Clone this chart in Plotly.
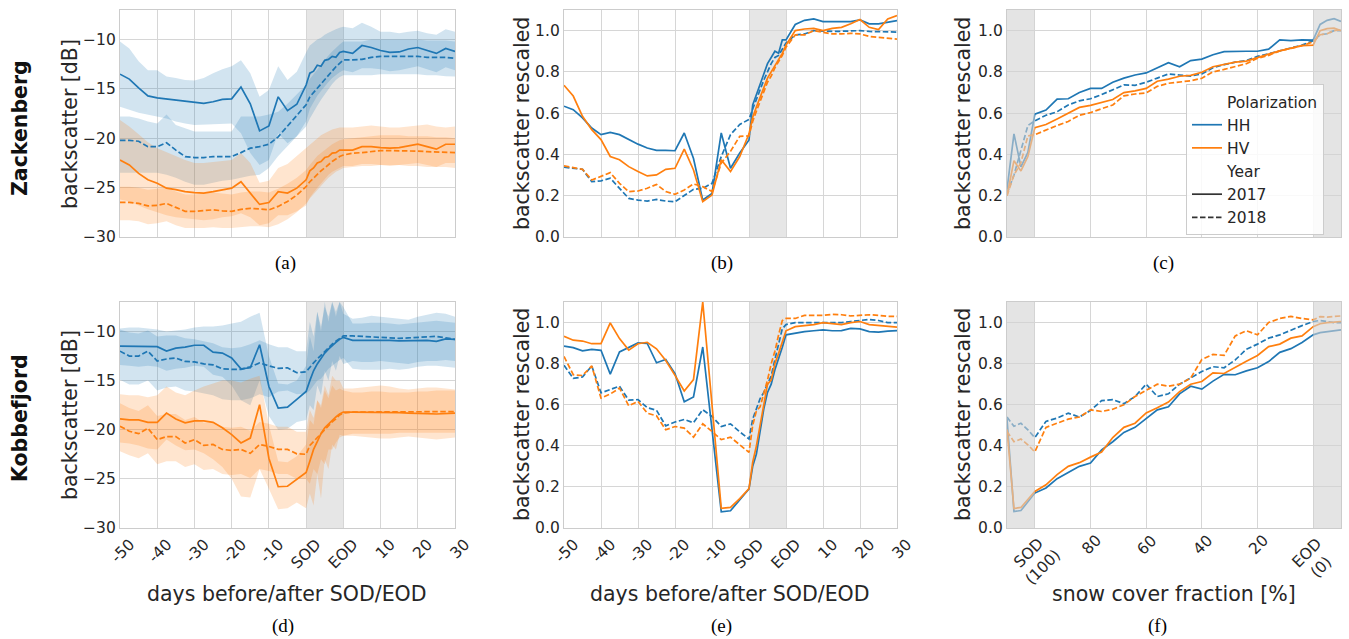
import plotly.graph_objects as go

W, H = 1349, 639

# ---------------- data ----------------
# day axis: negative = days before SOD, 0..10 = melt period SOD->EOD (rescaled), >10 = days after EOD (+10)
X_DAYS = [-50, -47.5, -45, -42.5, -40, -37.5, -35, -32.5, -30, -27.5, -25, -22.5, -20, -17.5, -15,
          -12.5, -10, -7.5, -5, -2.5, 0, 1, 2, 3, 4, 5, 6, 7, 8, 9, 10,
          12.5, 15, 17.5, 20, 22.5, 25, 27.5, 30, 32.5, 35, 37.5, 40]
X_DAY_TICKS = [-50, -40, -30, -20, -10, 0, 10, 20, 30, 40]
X_DAY_LABELS = ["-50", "-40", "-30", "-20", "-10", "SOD", "EOD", "10", "20", "30"]

# snow cover fraction axis [%]
X_SCF = [110, 107.5, 105, 102.5, 100, 96, 92, 88, 84, 80, 76, 72, 68, 64, 60, 56, 52, 48, 44, 40,
         36, 32, 28, 24, 20, 16, 12, 8, 4, 0, -2.5, -5, -7.5, -10]
X_SCF_TICKS = [100, 80, 60, 40, 20, 0]
X_SCF_LABELS = ["SOD<br>(100)", "80", "60", "40", "20", "EOD<br>(0)"]

MELT_SPAN = [0, 10]
SCF_SPANS = [[100, 110], [-10, 0]]

# (a) Zackenberg backscatter [dB]
ZAC_HH17 = [-13.5, -14.0, -14.9, -15.7, -15.9, -16.0, -16.1, -16.2, -16.3, -16.45, -16.3, -16.05, -16.0, -14.8, -16.5,
            -19.25, -18.75, -15.8, -17.2, -16.55, -14.6, -13.4, -13.2, -12.6, -12.7, -12.1, -12.0, -11.7, -11.8, -11.3, -11.2,
            -11.4, -10.6, -10.8, -11.1, -11.3, -11.25, -10.95, -10.8, -11.1, -11.4, -10.9, -11.2]
ZAC_HH18 = [-20.2, -20.2, -20.3, -20.85, -20.85, -20.45, -21.2, -21.85, -21.95, -21.95, -21.85, -21.85, -21.85, -21.45, -21.0,
            -20.85, -20.6, -19.85, -18.8, -17.75, -16.6, -15.8, -15.35, -14.95, -14.5, -14.05, -13.6, -13.15, -12.75, -12.4, -12.05,
            -12.05, -12.0, -11.8, -11.7, -11.7, -11.7, -11.7, -11.7, -11.8, -11.8, -11.8, -11.9]
ZAC_HV17 = [-22.2, -22.7, -23.55, -24.2, -24.55, -25.05, -25.2, -25.4, -25.5, -25.55, -25.4, -25.2, -25.05, -24.4, -25.55,
            -26.7, -26.5, -25.4, -25.55, -25.05, -24.2, -23.3, -23.0, -22.5, -22.35, -21.95, -21.85, -21.5, -21.45, -21.2, -21.2,
            -21.2, -20.85, -20.85, -20.95, -21.0, -20.95, -20.75, -20.6, -20.85, -21.1, -20.6, -20.6]
ZAC_HV18 = [-26.5, -26.5, -26.6, -26.85, -26.8, -26.6, -27.0, -27.4, -27.4, -27.35, -27.25, -27.35, -27.4, -27.2, -27.1,
            -27.15, -27.25, -26.9, -26.4, -25.75, -24.9, -24.4, -24.0, -23.6, -23.3, -23.0, -22.65, -22.35, -22.1, -21.85, -21.7,
            -21.5, -21.45, -21.35, -21.25, -21.25, -21.25, -21.3, -21.3, -21.35, -21.4, -21.4, -21.45]
ZAC_HH17_HI = [-10.2, -10.9, -12.2, -13.1, -13.1, -13.75, -13.9, -14.1, -14.15, -13.9, -13.4, -13.0, -12.7, -12.1, -13.4,
               -15.8, -15.1, -12.7, -14.1, -13.25, -11.3, -10.6, -10.3, -10.0, -9.8, -9.5, -9.3, -9.1, -8.95, -8.8, -8.7,
               -8.85, -8.3, -8.7, -9.2, -9.2, -9.35, -9.2, -9.1, -9.35, -9.5, -8.95, -9.2]
ZAC_HH17_LO = [-16.8, -17.1, -17.4, -17.6, -17.8, -18.0, -18.3, -18.5, -18.65, -18.65, -18.6, -18.55, -18.5, -19.5, -21.5,
               -22.7, -22.2, -19.5, -20.5, -19.8, -18.3, -17.0, -16.3, -15.7, -15.2, -14.7, -14.3, -13.9, -13.6, -13.3, -13.1,
               -13.3, -12.9, -12.9, -13.0, -13.2, -13.1, -12.9, -12.7, -13.0, -13.3, -12.8, -13.1]
ZAC_HH18_HI = [-17.8, -17.8, -18.0, -18.3, -18.5, -17.6, -18.65, -19.0, -19.3, -19.3, -19.3, -19.3, -19.3, -17.8, -17.8,
               -17.8, -17.6, -17.3, -16.5, -15.5, -14.6, -14.0, -13.5, -13.0, -12.5, -12.0, -11.6, -11.2, -10.8, -10.5, -10.2,
               -10.2, -10.2, -10.0, -10.0, -10.0, -10.0, -10.0, -10.0, -10.1, -10.1, -10.1, -10.2]
ZAC_HH18_LO = [-23.5, -23.5, -23.5, -23.5, -23.5, -23.7, -24.0, -24.4, -24.7, -24.7, -24.5, -24.3, -24.2, -24.0, -23.8,
               -23.7, -23.0, -21.8, -20.8, -19.8, -18.8, -18.0, -17.3, -16.7, -16.1, -15.5, -15.0, -14.5, -14.1, -13.8, -13.6,
               -13.6, -13.6, -13.6, -13.5, -13.5, -13.5, -13.5, -13.5, -13.6, -13.6, -13.7, -13.75]
ZAC_HV17_HI = [-18.15, -18.8, -19.6, -20.4, -21.0, -21.4, -21.8, -22.2, -22.5, -22.5, -22.4, -22.3, -22.2, -21.5, -22.5,
               -24.5, -24.3, -23.0, -22.6, -21.8, -21.0, -20.6, -20.3, -20.0, -19.7, -19.5, -19.3, -19.1, -19.0, -18.9, -18.9,
               -18.9, -18.8, -18.7, -18.8, -18.9, -18.9, -18.8, -18.7, -18.6, -18.8, -18.9, -18.8]
ZAC_HV17_LO = [-26.2, -26.4, -26.8, -27.2, -27.5, -27.8, -28.0, -28.1, -28.2, -28.3, -28.2, -28.0, -27.9, -27.6, -28.0,
               -28.8, -28.6, -27.8, -27.8, -27.4, -26.8, -26.0, -25.5, -25.0, -24.5, -24.1, -23.7, -23.4, -23.2, -23.0, -22.8,
               -22.8, -22.6, -22.6, -22.7, -22.8, -22.7, -22.6, -22.5, -22.7, -22.9, -22.5, -22.5]
ZAC_HV18_HI = [-24.9, -24.9, -25.0, -25.2, -25.1, -25.0, -25.4, -25.7, -25.7, -25.6, -25.5, -25.6, -25.7, -25.5, -25.4,
               -25.4, -25.5, -25.1, -24.6, -24.0, -23.2, -22.7, -22.2, -21.8, -21.5, -21.2, -20.9, -20.6, -20.4, -20.2, -20.1,
               -20.0, -19.9, -19.8, -19.7, -19.7, -19.7, -19.8, -19.8, -19.8, -19.9, -19.9, -20.0]
ZAC_HV18_LO = [-28.3, -28.3, -28.4, -28.7, -28.6, -28.4, -28.8, -29.1, -29.1, -29.1, -29.0, -29.1, -29.1, -29.0, -28.9,
               -28.9, -29.0, -28.7, -28.2, -27.5, -26.6, -26.1, -25.6, -25.2, -24.8, -24.4, -24.0, -23.7, -23.4, -23.2, -23.0,
               -22.9, -22.8, -22.8, -22.7, -22.7, -22.7, -22.8, -22.8, -22.9, -22.9, -22.9, -23.0]

# (b) Zackenberg rescaled, day axis
ZAC_HH17_R = [0.634, 0.617, 0.577, 0.528, 0.496, 0.507, 0.496, 0.472, 0.45, 0.431, 0.42, 0.42, 0.418, 0.504, 0.38,
              0.179, 0.211, 0.504, 0.333, 0.407, 0.47, 0.64, 0.69, 0.74, 0.79, 0.84, 0.87, 0.90, 0.89, 0.955, 0.955,
              1.03, 1.05, 1.057, 1.044, 1.044, 1.044, 1.044, 1.052, 1.033, 1.033, 1.04, 1.049]
ZAC_HH18_R = [0.338, 0.333, 0.328, 0.268, 0.272, 0.285, 0.236, 0.187, 0.179, 0.174, 0.182, 0.174, 0.171, 0.203, 0.231,
              0.236, 0.26, 0.39, 0.496, 0.545, 0.57, 0.62, 0.67, 0.71, 0.76, 0.80, 0.84, 0.87, 0.88, 0.91, 0.94,
              0.979, 0.984, 1.0, 0.997, 0.996, 0.997, 0.997, 1.0, 0.996, 0.994, 0.993, 0.993]
ZAC_HV17_R = [0.735, 0.683, 0.585, 0.52, 0.472, 0.39, 0.374, 0.341, 0.317, 0.296, 0.301, 0.328, 0.333, 0.426, 0.325,
              0.171, 0.203, 0.374, 0.317, 0.39, 0.50, 0.58, 0.63, 0.68, 0.73, 0.77, 0.80, 0.83, 0.86, 0.89, 0.93,
              1.0, 1.008, 1.011, 1.0, 1.011, 1.016, 1.033, 1.054, 1.016, 1.005, 1.057, 1.073]
ZAC_HV18_R = [0.345, 0.338, 0.328, 0.276, 0.296, 0.312, 0.26, 0.22, 0.223, 0.236, 0.255, 0.22, 0.207, 0.228, 0.257,
              0.244, 0.22, 0.358, 0.415, 0.488, 0.49, 0.56, 0.61, 0.66, 0.71, 0.75, 0.78, 0.82, 0.85, 0.88, 0.92,
              0.979, 0.979, 1.0, 0.992, 0.984, 0.984, 0.987, 0.984, 0.972, 0.967, 0.963, 0.959]

# (c) Zackenberg rescaled, snow cover fraction axis
ZAC_HH17_S = [0.23, 0.50, 0.34, 0.41, 0.595, 0.615, 0.668, 0.67, 0.70, 0.72, 0.72, 0.75, 0.77, 0.785, 0.795, 0.82, 0.845,
              0.825, 0.855, 0.862, 0.883, 0.898, 0.90, 0.90, 0.90, 0.91, 0.955, 0.952, 0.955, 0.954, 1.03, 1.05, 1.058, 1.045]
ZAC_HH18_S = [0.21, 0.30, 0.42, 0.54, 0.563, 0.59, 0.607, 0.64, 0.66, 0.67, 0.69, 0.715, 0.737, 0.735, 0.75, 0.77, 0.79,
              0.785, 0.78, 0.79, 0.82, 0.835, 0.847, 0.855, 0.875, 0.888, 0.902, 0.918, 0.93, 0.951, 0.98, 0.985, 1.0, 1.0]
ZAC_HV17_S = [0.20, 0.37, 0.32, 0.39, 0.53, 0.545, 0.572, 0.60, 0.628, 0.638, 0.652, 0.666, 0.70, 0.708, 0.72, 0.755, 0.765,
              0.779, 0.783, 0.798, 0.825, 0.835, 0.847, 0.852, 0.87, 0.886, 0.902, 0.915, 0.927, 0.93, 1.0, 1.01, 1.012, 1.0]
ZAC_HV18_S = [0.20, 0.30, 0.36, 0.49, 0.496, 0.52, 0.54, 0.56, 0.59, 0.603, 0.62, 0.64, 0.684, 0.693, 0.698, 0.73, 0.745,
              0.752, 0.757, 0.769, 0.80, 0.812, 0.825, 0.84, 0.866, 0.88, 0.902, 0.915, 0.927, 0.946, 0.98, 0.985, 1.0, 1.005]

# (d) Kobbefjord backscatter [dB]
KOB_HH17 = [-11.5, -11.5, -11.5, -11.5, -11.55, -12.0, -11.7, -11.6, -11.4, -11.4, -12.1, -12.2, -12.7, -13.8, -13.7,
            -11.35, -15.6, -17.8, -17.7, -16.9, -16.1, -15.0, -14.0, -13.3, -12.7, -12.2, -11.8, -11.4, -11.1, -10.8, -10.6,
            -10.9, -10.9, -10.9, -10.85, -10.9, -10.95, -10.95, -10.9, -10.9, -11.0, -10.75, -10.8]
KOB_HH18 = [-12.0, -12.5, -12.5, -12.0, -13.0, -12.8, -12.7, -13.05, -13.1, -13.3, -13.4, -13.8, -13.85, -13.85, -13.6,
            -13.2, -13.5, -13.75, -13.7, -14.2, -14.1, -13.6, -13.2, -12.8, -12.4, -12.0, -11.6, -11.3, -11.0, -10.7, -10.45,
            -10.45, -10.5, -10.55, -10.6, -10.65, -10.7, -10.65, -10.6, -10.55, -10.5, -10.65, -10.8]
KOB_HV17 = [-18.9, -19.0, -19.0, -19.25, -19.25, -18.3, -18.9, -19.3, -19.1, -19.1, -19.25, -19.8, -20.5, -21.35, -20.85,
            -17.45, -22.9, -25.8, -25.75, -25.05, -24.35, -23.2, -22.0, -21.2, -20.4, -19.8, -19.4, -19.0, -18.7, -18.4, -18.2,
            -18.2, -18.2, -18.2, -18.2, -18.25, -18.25, -18.3, -18.3, -18.35, -18.4, -18.35, -18.3]
KOB_HV18 = [-19.65, -20.15, -20.4, -19.85, -21.0, -20.7, -20.7, -21.35, -21.0, -21.6, -21.5, -22.0, -22.1, -22.0, -22.4,
            -21.5, -21.7, -22.0, -22.0, -22.45, -22.5, -21.6, -21.2, -20.8, -20.4, -20.0, -19.5, -19.2, -18.9, -18.5, -18.3,
            -18.2, -18.2, -18.2, -18.2, -18.2, -18.2, -18.2, -18.2, -18.2, -18.15, -18.15, -18.15]
KOB_HH17_HI = [-9.7, -9.6, -9.6, -9.7, -9.8, -10.0, -9.9, -9.8, -9.6, -9.5, -9.5, -9.4, -9.2, -9.0, -8.5,
               -8.1, -12.5, -15.3, -15.4, -15.0, -13.5, -10.5, -12.0, -8.0, -10.0, -7.0, -9.0, -7.0, -8.5, -7.0, -8.2,
               -8.7, -8.6, -8.4, -8.5, -8.6, -8.7, -8.8, -8.5, -8.3, -8.1, -8.2, -8.5]
KOB_HH17_LO = [-13.4, -13.5, -13.6, -13.5, -13.6, -14.0, -13.8, -13.7, -13.5, -13.6, -14.4, -14.6, -15.5, -17.0, -17.5,
               -15.0, -18.6, -20.0, -19.9, -19.2, -19.0, -17.5, -18.0, -15.5, -16.5, -14.0, -15.0, -13.0, -14.0, -12.5, -13.3,
               -13.0, -13.1, -13.1, -13.0, -13.1, -13.2, -13.3, -13.1, -13.0, -13.0, -12.9, -13.0]
KOB_HH18_HI = [-9.8, -10.1, -10.2, -9.9, -10.5, -10.4, -10.4, -10.7, -10.8, -11.0, -11.2, -11.6, -11.7, -11.6, -11.3,
               -10.9, -11.3, -11.6, -11.6, -12.0, -12.0, -9.0, -10.5, -8.0, -9.5, -7.5, -8.5, -7.0, -8.0, -7.0, -7.5,
               -9.2, -9.2, -9.1, -9.1, -9.2, -9.3, -9.2, -9.1, -9.0, -8.9, -9.0, -9.1]
KOB_HH18_LO = [-14.9, -15.4, -15.4, -15.0, -16.0, -15.7, -15.6, -16.0, -16.1, -16.3, -16.5, -16.9, -17.0, -17.0, -16.8,
               -16.4, -16.7, -16.1, -16.0, -16.4, -16.3, -16.0, -15.5, -15.0, -14.8, -14.3, -13.8, -13.5, -13.2, -12.9, -12.7,
               -13.8, -13.9, -13.9, -13.9, -13.8, -13.9, -13.8, -13.6, -13.5, -13.5, -13.6, -13.7]
KOB_HV17_HI = [-16.4, -16.5, -16.5, -16.7, -16.5, -15.6, -16.2, -16.5, -16.0, -15.6, -15.3, -15.0, -15.0, -15.2, -14.8,
               -14.5, -19.5, -23.2, -23.3, -22.7, -21.5, -19.0, -19.5, -17.0, -17.5, -15.5, -16.5, -14.5, -15.0, -15.0, -15.8,
               -15.8, -15.7, -15.6, -15.5, -15.6, -15.8, -15.9, -15.8, -15.7, -15.7, -15.8, -15.9]
KOB_HV17_LO = [-21.3, -21.4, -21.6, -21.9, -22.0, -21.0, -21.6, -22.1, -22.0, -22.4, -23.0, -23.8, -25.0, -26.8, -26.9,
               -24.0, -26.0, -28.1, -28.0, -27.4, -28.0, -26.5, -27.7, -24.5, -27.0, -23.0, -24.0, -21.5, -22.0, -20.5, -20.6,
               -20.6, -20.7, -20.8, -20.9, -20.9, -20.8, -20.7, -20.8, -20.9, -21.0, -20.9, -20.8]
KOB_HV18_HI = [-17.3, -17.8, -18.1, -17.5, -18.6, -18.4, -18.4, -19.0, -18.7, -19.3, -19.2, -19.7, -19.8, -19.7, -20.1,
               -19.2, -19.4, -19.7, -19.7, -20.2, -20.2, -18.0, -18.8, -17.0, -17.8, -16.0, -16.8, -15.5, -16.0, -15.8, -16.0,
               -16.2, -16.2, -16.1, -16.1, -16.2, -16.2, -16.2, -16.1, -16.1, -16.0, -16.0, -16.0]
KOB_HV18_LO = [-22.2, -22.6, -22.9, -22.4, -23.5, -23.2, -23.2, -23.8, -23.5, -24.1, -24.0, -24.5, -24.6, -24.5, -24.9,
               -24.0, -24.2, -24.5, -24.5, -25.0, -25.0, -25.5, -24.0, -24.5, -23.0, -23.5, -22.0, -22.0, -21.3, -20.8, -20.6,
               -20.4, -20.4, -20.4, -20.4, -20.4, -20.3, -20.3, -20.3, -20.3, -20.3, -20.3, -20.3]

# (e) Kobbefjord rescaled, day axis
KOB_HH17_R = [0.885, 0.878, 0.862, 0.869, 0.865, 0.749, 0.857, 0.881, 0.901, 0.898, 0.804, 0.82, 0.752, 0.614, 0.638,
              0.881, 0.48, 0.079, 0.084, 0.136, 0.19, 0.30, 0.36, 0.47, 0.58, 0.66, 0.70, 0.77, 0.82, 0.88, 0.94,
              0.948, 0.956, 0.96, 0.964, 0.96, 0.961, 0.972, 0.969, 0.956, 0.953, 0.958, 0.961]
KOB_HH18_R = [0.792, 0.728, 0.735, 0.789, 0.658, 0.674, 0.69, 0.622, 0.625, 0.586, 0.573, 0.497, 0.516, 0.528, 0.512,
              0.576, 0.543, 0.494, 0.507, 0.468, 0.433, 0.53, 0.58, 0.63, 0.66, 0.70, 0.74, 0.82, 0.90, 0.97, 0.99,
              1.0, 1.0, 1.0, 1.0, 0.998, 1.0, 1.005, 1.01, 1.015, 1.01, 1.0, 1.0]
KOB_HV17_R = [0.933, 0.914, 0.91, 0.897, 0.897, 0.998, 0.922, 0.866, 0.897, 0.904, 0.872, 0.815, 0.743, 0.667, 0.722,
              1.10, 0.60, 0.096, 0.10, 0.143, 0.192, 0.32, 0.40, 0.50, 0.62, 0.70, 0.72, 0.80, 0.85, 0.90, 0.96,
              0.98, 0.985, 0.99, 1.0, 0.995, 0.99, 1.0, 1.005, 0.99, 0.985, 0.98, 0.978]
KOB_HV18_R = [0.835, 0.746, 0.742, 0.789, 0.632, 0.652, 0.681, 0.595, 0.616, 0.559, 0.546, 0.478, 0.494, 0.486, 0.442,
              0.507, 0.47, 0.43, 0.442, 0.405, 0.368, 0.50, 0.57, 0.59, 0.65, 0.72, 0.80, 0.86, 0.94, 1.01, 1.02,
              1.02, 1.035, 1.035, 1.035, 1.04, 1.038, 1.032, 1.035, 1.038, 1.035, 1.03, 1.03]

# (f) Kobbefjord rescaled, snow cover fraction axis
KOB_HH17_S = [0.53, 0.08, 0.085, 0.13, 0.17, 0.195, 0.24, 0.27, 0.30, 0.316, 0.38, 0.42, 0.465, 0.49, 0.532, 0.575, 0.59,
              0.653, 0.69, 0.676, 0.715, 0.748, 0.746, 0.765, 0.78, 0.81, 0.855, 0.873, 0.903, 0.94, 0.951, 0.956, 0.96, 0.964]
KOB_HH18_S = [0.54, 0.495, 0.51, 0.478, 0.44, 0.519, 0.535, 0.559, 0.54, 0.572, 0.62, 0.625, 0.605, 0.64, 0.70, 0.64, 0.653,
              0.70, 0.73, 0.762, 0.785, 0.78, 0.818, 0.87, 0.895, 0.924, 0.94, 0.964, 0.985, 1.005, 1.01, 1.005, 1.0, 1.0]
KOB_HV17_S = [0.48, 0.095, 0.10, 0.14, 0.178, 0.21, 0.26, 0.30, 0.318, 0.345, 0.37, 0.44, 0.49, 0.51, 0.56, 0.585, 0.613,
              0.664, 0.70, 0.713, 0.755, 0.752, 0.783, 0.812, 0.84, 0.883, 0.895, 0.924, 0.935, 0.98, 0.994, 1.0, 1.002, 1.005]
KOB_HV18_S = [0.47, 0.42, 0.433, 0.405, 0.37, 0.49, 0.51, 0.53, 0.54, 0.575, 0.567, 0.578, 0.60, 0.64, 0.67, 0.70, 0.69,
              0.70, 0.73, 0.82, 0.845, 0.84, 0.935, 0.96, 0.94, 1.0, 1.02, 1.03, 1.02, 1.013, 1.029, 1.026, 1.03, 1.032]

# ---------------- style ----------------
BLUE = "#1f77b4"
ORANGE = "#ff7f0e"
BAND = {BLUE: "rgba(31,119,180,0.2)", ORANGE: "rgba(255,127,14,0.2)"}
TXT = "#262626"
FONT = "DejaVu Sans"
DASH = "5.5px,2.5px"


def px(x):
    return x / W


def py(y):
    return 1 - y / H


def ax(i):
    return ("x", "y") if i == 1 else (f"x{i}", f"y{i}")


fig = go.Figure()


def band(i, x, lo, hi, color):
    xa, ya = ax(i)
    fig.add_trace(go.Scatter(x=list(x) + list(x)[::-1], y=list(hi) + list(lo)[::-1], xaxis=xa, yaxis=ya,
                             mode="lines", fill="toself", fillcolor=BAND[color], line=dict(width=0),
                             hoverinfo="skip", showlegend=False))


def line(i, x, y, color, dashed):
    xa, ya = ax(i)
    fig.add_trace(go.Scatter(x=x, y=y, xaxis=xa, yaxis=ya, mode="lines",
                             line=dict(color=color, width=1.7, dash=DASH if dashed else "solid"),
                             showlegend=False))


# (a)
band(1, X_DAYS, ZAC_HH17_LO, ZAC_HH17_HI, BLUE)
band(1, X_DAYS, ZAC_HH18_LO, ZAC_HH18_HI, BLUE)
band(1, X_DAYS, ZAC_HV17_LO, ZAC_HV17_HI, ORANGE)
band(1, X_DAYS, ZAC_HV18_LO, ZAC_HV18_HI, ORANGE)
line(1, X_DAYS, ZAC_HH17, BLUE, False)
line(1, X_DAYS, ZAC_HH18, BLUE, True)
line(1, X_DAYS, ZAC_HV17, ORANGE, False)
line(1, X_DAYS, ZAC_HV18, ORANGE, True)
# (b)
line(2, X_DAYS, ZAC_HH17_R, BLUE, False)
line(2, X_DAYS, ZAC_HH18_R, BLUE, True)
line(2, X_DAYS, ZAC_HV17_R, ORANGE, False)
line(2, X_DAYS, ZAC_HV18_R, ORANGE, True)
# (c)
line(3, X_SCF, ZAC_HH17_S, BLUE, False)
line(3, X_SCF, ZAC_HH18_S, BLUE, True)
line(3, X_SCF, ZAC_HV17_S, ORANGE, False)
line(3, X_SCF, ZAC_HV18_S, ORANGE, True)
# (d)
band(4, X_DAYS, KOB_HH17_LO, KOB_HH17_HI, BLUE)
band(4, X_DAYS, KOB_HH18_LO, KOB_HH18_HI, BLUE)
band(4, X_DAYS, KOB_HV17_LO, KOB_HV17_HI, ORANGE)
band(4, X_DAYS, KOB_HV18_LO, KOB_HV18_HI, ORANGE)
line(4, X_DAYS, KOB_HH17, BLUE, False)
line(4, X_DAYS, KOB_HH18, BLUE, True)
line(4, X_DAYS, KOB_HV17, ORANGE, False)
line(4, X_DAYS, KOB_HV18, ORANGE, True)
# (e)
line(5, X_DAYS, KOB_HH17_R, BLUE, False)
line(5, X_DAYS, KOB_HH18_R, BLUE, True)
line(5, X_DAYS, KOB_HV17_R, ORANGE, False)
line(5, X_DAYS, KOB_HV18_R, ORANGE, True)
# (f)
line(6, X_SCF, KOB_HH17_S, BLUE, False)
line(6, X_SCF, KOB_HH18_S, BLUE, True)
line(6, X_SCF, KOB_HV17_S, ORANGE, False)
line(6, X_SCF, KOB_HV18_S, ORANGE, True)

# legend entries (panel c)
LEGEND = [("Polarization", "rgba(0,0,0,0)", "solid"), ("HH", BLUE, "solid"), ("HV", ORANGE, "solid"),
          ("Year", "rgba(0,0,0,0)", "solid"), ("2017", "#333333", "solid"), ("2018", "#333333", DASH)]
for name, col, dsh in LEGEND:
    fig.add_trace(go.Scatter(x=[None], y=[None], xaxis="x3", yaxis="y3", mode="lines", name=name,
                             line=dict(color=col, width=1.7, dash=dsh), showlegend=True))

# ---------------- layout ----------------
COLS = [(120, 455), (564, 897), (1007, 1341)]
ROWS = [(10, 237), (302, 528)]

base = dict(showgrid=True, gridcolor="#d6d6d6", gridwidth=1.2, showline=True, linecolor="#cccccc",
            linewidth=1.3, mirror=True, zeroline=False, ticks="", automargin=False,
            tickfont=dict(family=FONT, size=15.5, color=TXT))

layout = {}
for r in range(2):
    for c in range(3):
        i = r * 3 + c + 1
        xk = "xaxis" if i == 1 else f"xaxis{i}"
        yk = "yaxis" if i == 1 else f"yaxis{i}"
        xa, ya = ax(i)
        xd = [px(COLS[c][0]), px(COLS[c][1])]
        yd = [py(ROWS[r][1]), py(ROWS[r][0])]
        xcfg = dict(base, domain=xd, anchor=ya)
        ycfg = dict(base, domain=yd, anchor=xa)
        if c < 2:
            xcfg.update(range=[-50, 40], tickvals=X_DAY_TICKS, ticktext=X_DAY_LABELS)
        else:
            xcfg.update(range=[110, -10], tickvals=X_SCF_TICKS, ticktext=X_SCF_LABELS)
        if r == 0 or c == 2:
            xcfg.update(showticklabels=False)
        else:
            xcfg.update(tickangle=-45, ticklabelshift=10)
        if c == 0:
            ycfg.update(range=[-30, -7], tickvals=[-30, -25, -20, -15, -10])
        else:
            ycfg.update(range=[0, 1.1], tickvals=[0, 0.2, 0.4, 0.6, 0.8, 1.0],
                        ticktext=["0.0", "0.2", "0.4", "0.6", "0.8", "1.0"])
        layout[xk] = xcfg
        layout[yk] = ycfg

shapes = []
for i in (1, 2, 4, 5):
    xa, ya = ax(i)
    shapes.append(dict(type="rect", xref=xa, yref=f"{ya} domain", x0=MELT_SPAN[0], x1=MELT_SPAN[1], y0=0, y1=1,
                       fillcolor="rgba(128,128,128,0.2)", line=dict(width=0), layer="below"))
for i in (3, 6):
    xa, ya = ax(i)
    for s0, s1 in SCF_SPANS:
        shapes.append(dict(type="rect", xref=xa, yref=f"{ya} domain", x0=s0, x1=s1, y0=0, y1=1,
                           fillcolor="rgba(210,210,210,0.6)", line=dict(width=0), layer="above"))

ann = []


def text(x, y, t, size, angle=0, family=FONT, bold=False, color=TXT):
    ann.append(dict(x=px(x), y=py(y), xref="paper", yref="paper", text=f"<b>{t}</b>" if bold else t,
                    showarrow=False, textangle=angle, xanchor="center", yanchor="middle",
                    font=dict(family=family, size=size, color=color)))


# rotated tick labels of panel (f), placed on the data axis at each tick value
for val, lab in zip(X_SCF_TICKS, X_SCF_LABELS):
    two = "<br>" in lab
    ann.append(dict(x=val, xref="x6", y=py(560 if two else 545), yref="paper", text=lab,
                    showarrow=False, textangle=-45, xanchor="center", yanchor="middle", xshift=1,
                    font=dict(family=FONT, size=15.5, color=TXT)))

text(20, 128, "Zackenberg", 20.5, -90, bold=True, color="#111111")
text(20, 418, "Kobbefjord", 20.5, -90, bold=True, color="#111111")
text(70, 124, "backscatter [dB]", 20.5, -90)
text(70, 415, "backscatter [dB]", 20.5, -90)
text(522, 124, "backscatter rescaled", 20.5, -90)
text(963, 124, "backscatter rescaled", 20.5, -90)
text(522, 415, "backscatter rescaled", 20.5, -90)
text(963, 415, "backscatter rescaled", 20.5, -90)
text(287, 594, "days before/after SOD/EOD", 20.5)
text(730, 594, "days before/after SOD/EOD", 20.5)
text(1174, 594, "snow cover fraction [%]", 20.5)
for lab, x, y in [("(a)", 285, 263), ("(b)", 722, 263), ("(c)", 1163, 263),
                  ("(d)", 283, 626), ("(e)", 722, 626), ("(f)", 1157, 626)]:
    text(x, y, lab, 19, family="Liberation Serif", color="#000000")

fig.update_layout(
    width=W, height=H, autosize=False,
    margin=dict(l=0, r=0, t=0, b=0, autoexpand=False),
    paper_bgcolor="white", plot_bgcolor="white",
    font=dict(family=FONT, color=TXT),
    shapes=shapes, annotations=ann,
    legend=dict(x=px(1186), y=py(84), xanchor="left", yanchor="top",
                bgcolor="rgba(255,255,255,0.85)", bordercolor="#cccccc", borderwidth=1,
                font=dict(family=FONT, size=15.5, color=TXT), tracegroupgap=0, itemwidth=30),
    **layout,
)

fig.write_html("out.html", config={"displayModeBar": False})

# remove the browser's default page margin so the figure sits at the page origin
with open("out.html", "r", encoding="utf-8") as f:
    html = f.read()
html = html.replace("<head>", "<head><style>html,body{margin:0;padding:0;overflow:hidden;}</style>", 1)
with open("out.html", "w", encoding="utf-8") as f:
    f.write(html)
